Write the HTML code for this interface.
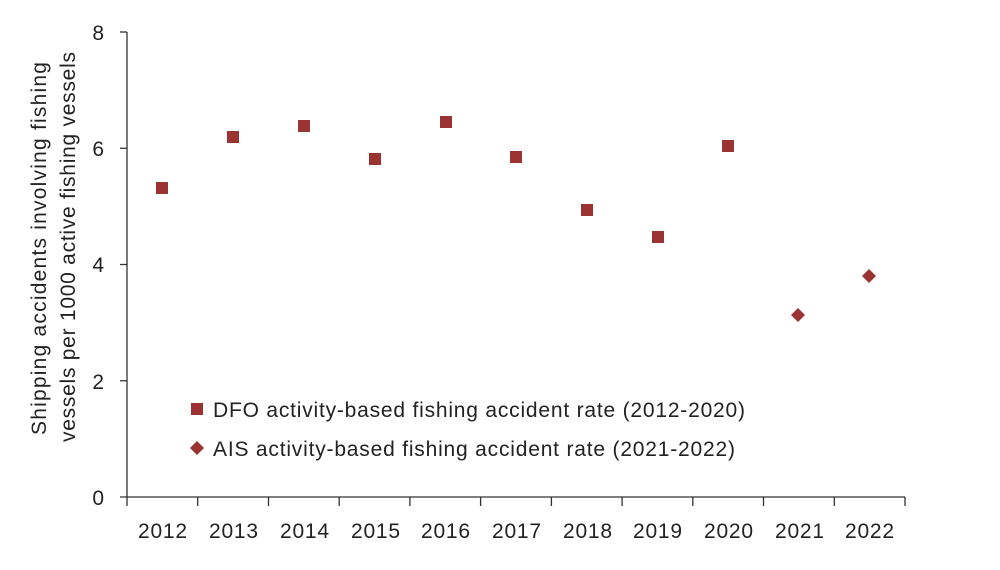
<!DOCTYPE html>
<html><head><meta charset="utf-8"><style>body{margin:0;background:#fff}</style></head><body>
<svg width="1000" height="565" xmlns="http://www.w3.org/2000/svg" font-family="Liberation Sans, sans-serif" fill="#222">
<g stroke="#333" stroke-width="1.3">
<line x1="127" y1="32" x2="127" y2="497"/>
<line x1="120" y1="497" x2="905" y2="497"/>
<line x1="120" y1="32" x2="127" y2="32"/>
<line x1="120" y1="148.25" x2="127" y2="148.25"/>
<line x1="120" y1="264.5" x2="127" y2="264.5"/>
<line x1="120" y1="380.75" x2="127" y2="380.75"/>
<line x1="127" y1="497" x2="127" y2="506"/><line x1="197.7" y1="497" x2="197.7" y2="506"/><line x1="268.5" y1="497" x2="268.5" y2="506"/><line x1="339.2" y1="497" x2="339.2" y2="506"/><line x1="409.9" y1="497" x2="409.9" y2="506"/><line x1="480.6" y1="497" x2="480.6" y2="506"/><line x1="551.4" y1="497" x2="551.4" y2="506"/><line x1="622.1" y1="497" x2="622.1" y2="506"/><line x1="692.8" y1="497" x2="692.8" y2="506"/><line x1="763.5" y1="497" x2="763.5" y2="506"/><line x1="834.3" y1="497" x2="834.3" y2="506"/><line x1="905" y1="497" x2="905" y2="506"/>
</g>
<g font-size="21" text-anchor="end">
<text x="104" y="40">8</text><text x="104" y="156">6</text><text x="104" y="272">4</text><text x="104" y="389">2</text><text x="104" y="505">0</text>
</g>
<g font-size="21">
<text x="138" y="538" textLength="49">2012</text><text x="209" y="538" textLength="49">2013</text><text x="280" y="538" textLength="49">2014</text><text x="351" y="538" textLength="49">2015</text><text x="421" y="538" textLength="49">2016</text><text x="492" y="538" textLength="49">2017</text><text x="563" y="538" textLength="49">2018</text><text x="633" y="538" textLength="49">2019</text><text x="704" y="538" textLength="49">2020</text><text x="775" y="538" textLength="49">2021</text><text x="845" y="538" textLength="49">2022</text>
</g>
<g font-size="21">
<text transform="translate(46,435) rotate(-90)" textLength="373">Shipping accidents involving fishing</text>
<text transform="translate(75,442) rotate(-90)" textLength="390">vessels per 1000 active fishing vessels</text>
</g>
<g fill="#9b3333">
<rect x="156" y="182" width="12" height="12"/><rect x="227" y="131" width="12" height="12"/><rect x="298" y="120" width="12" height="12"/><rect x="369" y="153" width="12" height="12"/><rect x="440" y="116" width="12" height="12"/><rect x="510" y="151" width="12" height="12"/><rect x="581" y="204" width="12" height="12"/><rect x="652" y="231" width="12" height="12"/><rect x="722" y="140" width="12" height="12"/>
<polygon points="798,308 805,315 798,322 791,315"/><polygon points="869,269 876,276 869,283 862,276"/>
<rect x="191" y="403" width="12" height="12"/>
<polygon points="197,441 204,448 197,455 190,448"/>
</g>
<g font-size="21">
<text x="213" y="417" textLength="532">DFO activity-based fishing accident rate (2012-2020)</text>
<text x="213" y="456" textLength="522">AIS activity-based fishing accident rate (2021-2022)</text>
</g>
</svg>
</body></html>
